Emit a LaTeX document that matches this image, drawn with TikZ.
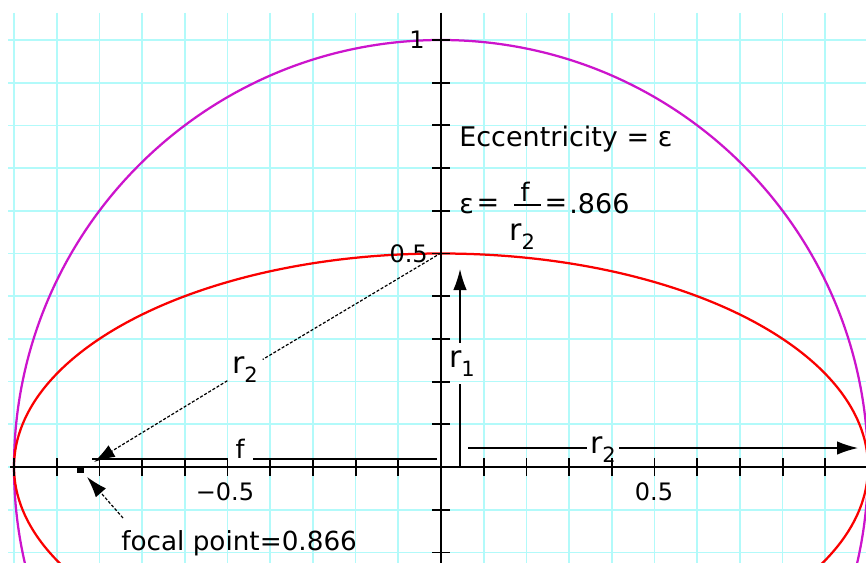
\documentclass[tikz,border=0pt]{standalone}
\usepackage{fontspec}
\setmainfont{DejaVu Sans}
\usetikzlibrary{arrows.meta}
\definecolor{gridcyan}{RGB}{178,250,250}
\definecolor{curvemag}{RGB}{204,20,204}
\definecolor{curvered}{RGB}{250,0,0}
\newcommand\fsz[1]{\fontsize{#1}{#1}\selectfont}
\newcommand\rlab[1]{{\fsz{20}r}\raisebox{-6pt}{\fsz{14}#1}}
\begin{document}
\begin{tikzpicture}[x=0.2342mm,y=-0.2342mm,
  gridline/.style={gridcyan,line width=1.1pt},
  axisline/.style={black,line width=1.4pt},
  tickmark/.style={black,line width=1.2pt},
  curve/.style={line width=1.5pt},
  solidarrow/.style={black,line width=1pt},
  dashline/.style={black,line width=0.8pt,dash pattern=on 2pt off 1.2pt},
  head/.style={-{Latex[length=14pt,width=9pt]}},
  lbl/.style={inner sep=0pt,font=\fsz{18}},
  ticklbl/.style={inner sep=0pt,font=\fsz{16}},
  rl/.style={inner sep=2pt}]
\useasboundingbox (0,0) rectangle (866,563);
\begin{scope}
\clip (0,0) rectangle (866,563);
% grid
\foreach \k in {-10,...,10} \draw[gridline] ({441+42.7*\k},12.7) -- ({441+42.7*\k},563);
\foreach \k in {-2,...,10} \draw[gridline] (8,{467-42.7*\k}) -- (866,{467-42.7*\k});
% curves
\draw[curve,curvemag] (441,467) circle [radius=427];
\draw[curve,curvered] (441,467) ellipse [x radius=427, y radius=213.5];
% axes
\draw[axisline] (10,467) -- (866,467);
\draw[axisline] (441,12.7) -- (441,563);
\foreach \k in {-10,...,10} \draw[tickmark] ({441+42.7*\k},458) -- ({441+42.7*\k},476);
\foreach \k in {-2,...,10} \draw[tickmark] (432,{467-42.7*\k}) -- (450,{467-42.7*\k});
\end{scope}
% tick labels
\node[ticklbl,anchor=east] (ylab1) at (425,40) {1};
\node[ticklbl,anchor=east] (ylab05) at (428,254) {0.5};
\node[ticklbl] (xlabm05) at (225,492) {−0.5};
\node[ticklbl] (xlab05) at (654,492) {0.5};
% texts
\node[lbl,anchor=base west] (ecc) at (459,147) {Eccentricity = ε};
\node[lbl,anchor=base west] (epsl) at (459,213) {ε};
\node[lbl] (eq1) at (488,205) {=};
\node[inner sep=0pt,font=\fsz{17},anchor=base] (fnum) at (525,201) {f};
\draw[line width=0.9pt] (514,205) -- (541,205);
\node[inner sep=0pt,anchor=north west] (fden) at (509,223) {\rlab{2}};
\node[lbl] (eq2) at (556,205) {=};
\node[lbl,anchor=base west] (val) at (569,213) {.866};
% focal point
\node[fill=black,inner sep=0pt,minimum size=5pt] (focal) at (80.5,469.5) {};
\node[inner sep=0pt,anchor=base west,font=\fsz{17.5}] (foclab) at (121,550) {focal point=0.866};
\coordinate (focstart) at (123,518);
\draw[dashline,head,shorten >=3pt] (focstart) -- (focal);
% f line
\node[inner xsep=5.7pt,inner ysep=0pt,font=\fsz{17}] (flab) at (240,449) {f};
\coordinate (fR) at (437,459);
\coordinate (fL) at (92,459);
\draw[solidarrow] (fR) -- (flab.east |- fR);
\draw[solidarrow] (flab.west |- fL) -- (fL);
% r2 dashed
\coordinate (r2top) at (441,253);
\coordinate (r2foot) at (94,462);
\node[inner sep=3pt] (r2lab) at (245,370) {\rlab{2}};
\draw[dashline] (r2top) -- (r2lab);
\draw[dashline,head] (r2lab) -- (r2foot);
% r1
\coordinate (r1base) at (460,466);
\coordinate (r1tip) at (460,269);
\node[inner xsep=2pt,inner ysep=5pt] (r1lab) at (462,363.5) {\rlab{1}};
\draw[solidarrow] (r1base) -- (r1base |- r1lab.south);
\draw[solidarrow,head] (r1tip |- r1lab.north) -- (r1tip);
% r2 right
\coordinate (r2Rstart) at (468,448);
\coordinate (r2Rtip) at (858,448);
\node[rl] (r2Rlab) at (603,449.5) {\rlab{2}};
\draw[solidarrow] (r2Rstart) -- (r2Rlab.west |- r2Rstart);
\draw[solidarrow,head] (r2Rlab.east |- r2Rstart) -- (r2Rtip);
\end{tikzpicture}
\end{document}
